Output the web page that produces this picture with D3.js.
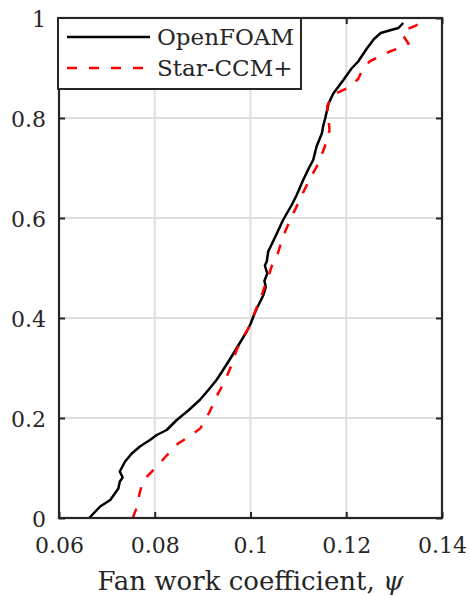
<!DOCTYPE html>
<html>
<head>
    <title>Fan work coefficient CDF</title>
    <script src="https://d3js.org/d3.v7.min.js"></script>
    <style>
        body { margin: 0; background: #fff; }
        text { fill: #262626; }
    </style>
</head>
<body>
<svg width="469" height="596"></svg>
<script>
    // cumulative distribution
    const openfoamPsi = [0.0663, 0.0686, 0.0707, 0.0724, 0.0727, 0.0733, 0.0727, 0.0738, 0.0752, 0.0769,
        0.0790, 0.0804, 0.0825, 0.0846, 0.0870, 0.0894, 0.0912, 0.0929, 0.0942, 0.0954,
        0.0965, 0.0975, 0.0984, 0.0992, 0.1000, 0.1006, 0.1013, 0.1022, 0.1027, 0.1032,
        0.1029, 0.1035, 0.1030, 0.1034, 0.1037, 0.1046, 0.1055, 0.1068, 0.1086, 0.1096,
        0.1110, 0.1122, 0.1131, 0.1138, 0.1149, 0.1152, 0.1156, 0.1163, 0.1173, 0.1180,
        0.1194, 0.1211, 0.1225, 0.1243, 0.1258, 0.1272, 0.1290, 0.1309, 0.1319];
    const openfoamCdf = [0.000, 0.023, 0.036, 0.059, 0.073, 0.081, 0.093, 0.113, 0.129, 0.143,
        0.156, 0.166, 0.176, 0.196, 0.215, 0.236, 0.256, 0.276, 0.295, 0.313,
        0.330, 0.346, 0.360, 0.373, 0.388, 0.403, 0.419, 0.436, 0.446, 0.462,
        0.474, 0.489, 0.505, 0.513, 0.533, 0.551, 0.569, 0.596, 0.626, 0.645,
        0.676, 0.700, 0.716, 0.743, 0.769, 0.785, 0.799, 0.829, 0.849, 0.858,
        0.876, 0.899, 0.913, 0.939, 0.958, 0.970, 0.975, 0.980, 0.990];

    const starPsi = [0.0754, 0.0762, 0.0769, 0.0776, 0.0787, 0.0804, 0.0822, 0.0849, 0.0875, 0.0895,
        0.0905, 0.0915, 0.0929, 0.0947, 0.0960, 0.0971, 0.0985, 0.0999, 0.1013, 0.1025,
        0.1037, 0.1045, 0.1055, 0.1068, 0.1086, 0.1105, 0.1114, 0.1128, 0.1142, 0.1156,
        0.1165, 0.1163, 0.1160, 0.1168, 0.1180, 0.1201, 0.1225, 0.1235, 0.1250, 0.1291,
        0.1319, 0.1330, 0.1316, 0.1323, 0.1344, 0.1368];
    const starCdf = [0.000, 0.020, 0.052, 0.076, 0.086, 0.103, 0.122, 0.149, 0.165, 0.179,
        0.196, 0.213, 0.243, 0.275, 0.305, 0.336, 0.362, 0.385, 0.421, 0.450,
        0.483, 0.505, 0.523, 0.563, 0.603, 0.640, 0.659, 0.685, 0.709, 0.745,
        0.775, 0.800, 0.823, 0.840, 0.850, 0.859, 0.878, 0.899, 0.914, 0.933,
        0.943, 0.949, 0.969, 0.976, 0.984, 0.999];

    const seriesNames = ["OpenFOAM", "Star-CCM+"];
    const xTickVals = [0.06, 0.08, 0.1, 0.12, 0.14];
    const xTickLabels = ["0.06", "0.08", "0.1", "0.12", "0.14"];
    const yTickVals = [0, 0.2, 0.4, 0.6, 0.8, 1];
    const yTickLabels = ["0", "0.2", "0.4", "0.6", "0.8", "1"];

    const margin = {left: 59, top: 18};
    const w = 383, h = 500;
    const axisColor = "#262626";
    const font = "'DejaVu Serif', serif";

    const svg = d3.select("svg");
    const g = svg.append("g")
        .attr("transform", "translate(" + margin.left + "," + margin.top + ")");

    const x = d3.scaleLinear().domain([0.06, 0.14]).range([0, w]);
    const y = d3.scaleLinear().domain([0, 1]).range([h, 0]);

    // grid
    g.append("g").selectAll("line")
        .data(xTickVals.slice(1, -1))
        .enter().append("line")
        .attr("x1", d => x(d)).attr("x2", d => x(d))
        .attr("y1", 0).attr("y2", h)
        .attr("stroke", "#e0e0e0").attr("stroke-width", 2);
    g.append("g").selectAll("line")
        .data(yTickVals.slice(1, -1))
        .enter().append("line")
        .attr("y1", d => y(d)).attr("y2", d => y(d))
        .attr("x1", 0).attr("x2", w)
        .attr("stroke", "#e0e0e0").attr("stroke-width", 2);

    const line = d3.line().x(d => x(d[0])).y(d => y(d[1]));

    g.append("path")
        .datum(openfoamPsi.map((v, i) => [v, openfoamCdf[i]]))
        .attr("d", line)
        .attr("fill", "none")
        .attr("stroke", "#000")
        .attr("stroke-width", 2.5)
        .attr("stroke-linejoin", "round");

    g.append("path")
        .datum(starPsi.map((v, i) => [v, starCdf[i]]))
        .attr("d", line)
        .attr("fill", "none")
        .attr("stroke", "#ff0000")
        .attr("stroke-width", 2.5)
        .attr("stroke-dasharray", "10,12");

    // axes, inward ticks on all four sides
    const fmtX = d => xTickLabels[xTickVals.indexOf(d)];
    const fmtY = d => yTickLabels[yTickVals.indexOf(d)];

    const xAxis = g.append("g")
        .attr("transform", "translate(0," + h + ")")
        .call(d3.axisBottom(x).tickValues(xTickVals).tickFormat(fmtX)
            .tickSizeInner(-6).tickSizeOuter(0).tickPadding(19));
    const yAxis = g.append("g")
        .call(d3.axisLeft(y).tickValues(yTickVals).tickFormat(fmtY)
            .tickSizeInner(-6).tickSizeOuter(0).tickPadding(13));
    g.append("g")
        .call(d3.axisTop(x).tickValues(xTickVals).tickFormat("")
            .tickSizeInner(-6).tickSizeOuter(0));
    g.append("g")
        .attr("transform", "translate(" + w + ",0)")
        .call(d3.axisRight(y).tickValues(yTickVals).tickFormat("")
            .tickSizeInner(-6).tickSizeOuter(0));

    g.selectAll(".domain").remove();
    g.selectAll(".tick line").attr("stroke", axisColor).attr("stroke-width", 2);
    g.selectAll(".tick text").style("font-size", "22px").attr("fill", axisColor)
        .attr("font-family", null)
        .style("font-family", font);
    yAxis.selectAll(".tick text").attr("dy", "0.38em");

    g.append("rect")
        .attr("x", 0).attr("y", 0).attr("width", w).attr("height", h)
        .attr("fill", "none").attr("stroke", axisColor).attr("stroke-width", 2.2);

    // x label
    const xl = svg.append("text")
        .attr("x", margin.left + w / 2)
        .attr("y", 590)
        .attr("text-anchor", "middle")
        .style("font-family", font)
        .style("font-size", "26px");
    xl.append("tspan").text("Fan work coefficient, ");
    xl.append("tspan").style("font-style", "italic").text("\u03c8");

    // legend
    const leg = svg.append("g");
    leg.append("rect")
        .attr("x", 58).attr("y", 18).attr("width", 243).attr("height", 71)
        .attr("fill", "#fff").attr("stroke", axisColor).attr("stroke-width", 2);
    const legY = [37, 68];
    leg.append("line")
        .attr("x1", 67).attr("x2", 150).attr("y1", legY[0]).attr("y2", legY[0])
        .attr("stroke", "#000").attr("stroke-width", 2.5);
    leg.append("line")
        .attr("x1", 67).attr("x2", 150).attr("y1", legY[1]).attr("y2", legY[1])
        .attr("stroke", "#ff0000").attr("stroke-width", 2.5)
        .attr("stroke-dasharray", "10,12");
    leg.selectAll("text.lab")
        .data(seriesNames)
        .enter().append("text")
        .attr("class", "lab")
        .attr("x", 157)
        .attr("y", (d, i) => legY[i] + 8)
        .style("font-family", font)
        .style("font-size", "23px")
        .text(d => d);
</script>
</body>
</html>
